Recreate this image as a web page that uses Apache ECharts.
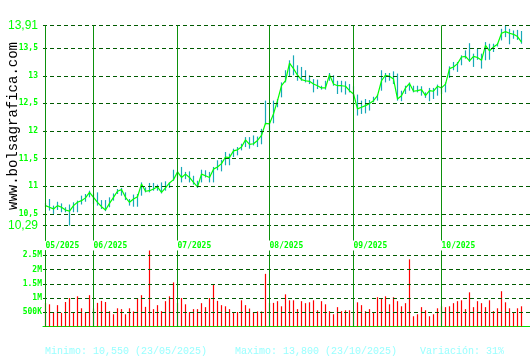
<!DOCTYPE html>
<html><head><meta charset="utf-8">
<script src="https://cdn.jsdelivr.net/npm/echarts@6/dist/echarts.min.js"></script>
<style>html,body{margin:0;padding:0;background:#fff}#c{width:530px;height:360px}</style>
</head><body><div id="c"></div>
<script>
const monthLabels = ['05/2025','06/2025','07/2025','08/2025','09/2025','10/2025'];
const monthStarts = [0,12,33,56,77,99];
const priceTicks = [10.29,10.5,11,11.5,12,12.5,13,13.5,13.91];
const volumeTicks = [500000,1000000,1500000,2000000,2500000];
const footerTexts = ['Minimo: 10,550 (23/05/2025)','Maximo: 13,800 (23/10/2025)','Variación: 31%'];

const closes = [10.65,10.62,10.59,10.65,10.62,10.57,10.55,10.65,10.71,10.74,
10.79,10.89,10.80,10.71,10.63,10.57,10.69,10.80,10.91,10.94,
10.80,10.71,10.77,10.81,11.04,10.91,10.92,10.95,10.99,10.89,
10.97,11.06,11.12,11.26,11.16,11.22,11.16,11.07,10.99,11.22,
11.19,11.16,11.31,11.35,11.41,11.53,11.52,11.64,11.66,11.71,
11.84,11.76,11.77,11.83,11.92,12.14,12.13,12.31,12.55,12.82,
12.91,13.23,13.13,13.01,12.93,12.91,12.90,12.85,12.82,12.78,
12.78,13.02,12.85,12.82,12.82,12.81,12.73,12.67,12.40,12.43,
12.46,12.50,12.55,12.64,12.91,13.01,12.99,12.94,12.58,12.64,
12.78,12.86,12.72,12.73,12.75,12.64,12.73,12.72,12.81,12.78,
12.85,13.13,13.16,13.22,13.34,13.35,13.27,13.35,13.33,13.28,
13.55,13.45,13.52,13.57,13.77,13.80,13.77,13.75,13.71,13.61];

const highs = [10.70,10.77,10.65,10.72,10.69,10.62,10.67,10.71,10.74,10.83,
10.86,10.92,10.87,10.89,10.75,10.75,10.80,10.87,10.95,10.97,
10.89,10.77,10.85,10.86,11.07,10.98,11.06,11.06,11.03,11.07,
11.09,11.07,11.30,11.27,11.35,11.26,11.27,11.19,11.10,11.30,
11.29,11.26,11.35,11.47,11.48,11.62,11.59,11.68,11.71,11.77,
11.89,11.89,11.92,11.90,12.04,12.55,12.19,12.55,12.58,12.88,
13.10,13.28,13.37,13.19,13.16,13.10,13.01,12.94,12.93,12.82,
12.91,13.05,13.01,12.91,12.91,12.90,12.85,12.81,12.66,12.55,
12.58,12.56,12.62,12.66,13.10,13.05,13.05,13.08,13.04,12.73,
12.82,12.88,12.82,12.82,12.81,12.70,12.78,12.78,12.84,12.82,
12.88,13.17,13.25,13.25,13.37,13.46,13.59,13.40,13.49,13.40,
13.61,13.58,13.58,13.59,13.85,13.91,13.85,13.82,13.83,13.81];

const lows = [10.62,10.56,10.50,10.57,10.53,10.53,10.29,10.53,10.53,10.67,
10.72,10.80,10.68,10.65,10.59,10.55,10.62,10.74,10.86,10.83,
10.75,10.65,10.63,10.63,10.83,10.89,10.89,10.92,10.92,10.87,
10.92,10.97,11.10,11.16,11.07,11.13,11.07,11.03,10.97,11.07,
11.16,11.07,11.07,11.29,11.27,11.38,11.38,11.53,11.56,11.65,
11.71,11.68,11.74,11.71,11.76,12.12,12.01,12.14,12.43,12.61,
12.88,12.99,13.01,12.91,12.91,12.88,12.85,12.70,12.76,12.75,
12.75,12.91,12.82,12.67,12.70,12.66,12.70,12.61,12.28,12.31,
12.32,12.37,12.52,12.55,12.73,12.88,12.91,12.85,12.55,12.54,
12.67,12.73,12.70,12.70,12.64,12.60,12.54,12.58,12.64,12.67,
12.70,12.96,13.10,13.07,13.19,13.31,13.25,13.16,13.29,13.13,
13.28,13.29,13.43,13.53,13.64,13.70,13.57,13.67,13.65,13.58];

const volumesK = [830,780,510,750,480,860,1000,480,1060,640,
510,1100,630,830,900,860,540,430,640,610,
430,640,530,1000,1100,690,2670,610,750,540,
890,1060,1550,830,1000,780,510,610,610,820,
680,1000,1460,900,750,710,610,510,510,920,
750,630,510,530,530,1850,830,830,890,710,
1130,920,920,610,890,820,850,920,570,890,
780,540,430,680,540,570,570,460,850,750,
540,610,510,1030,1000,1060,780,1030,890,710,
820,2360,360,430,680,570,360,430,640,710,
680,710,820,890,920,610,1200,680,890,820,
680,920,540,640,1240,850,640,510,640,710];

const yLow = priceTicks[0], yHigh = priceTicks[priceTicks.length-1];
const priceMin = yLow - (yHigh - yLow) * 15 / 200;
const volMax = Math.max(...volumesK) * 1000;

const green = '#00ff00';
const dashColor = '#005a00';
const monthColor = '#0c900c';
const axisColor = '#00e000';
const smallFont = {fontFamily:'DejaVu Sans Mono', fontWeight:'bold', fontSize:8, color:green};

function gridMarks(ticks){
  return {
    silent:true, symbol:'none', label:{show:false}, animation:false,
    data: ticks.map(v=>({yAxis:v, lineStyle:{type:[4,3], color:dashColor, width:1, opacity:1}}))
      .concat(monthStarts.map(i=>({xAxis:i, lineStyle:{type:'solid', color:monthColor, width:1, opacity:1}})))
  };
}

const chart = echarts.init(document.getElementById('c'), null, {renderer:'canvas'});
chart.setOption({
  animation:false,
  backgroundColor:'#ffffff',
  title: footerTexts.map((t,k)=>({
    text:t, left:[45,235,420][k], top:346, padding:0,
    textStyle:{fontFamily:'Liberation Mono', fontSize:10, fontWeight:'normal', color:'#99ffff'}
  })),
  graphic:[{type:'text', x:13, y:126, rotation:Math.PI/2,
    style:{text:'www.bolsagrafica.com', font:'14px "Liberation Mono"', fill:'#000', align:'center', verticalAlign:'middle'}}],
  grid:[
    {left:43, right:0, top:25.5, height:215},
    {left:43, right:0, top:250.5, height:76}
  ],
  xAxis:[
    {gridIndex:0, type:'value', min:-0.625, max:121.125,
     axisLine:{show:false}, axisTick:{show:false}, splitLine:{show:false},
     axisLabel:{customValues:monthStarts, formatter:v=>monthLabels[monthStarts.indexOf(v)],
       align:'left', margin:1, ...smallFont}},
    {gridIndex:1, type:'value', min:-0.625, max:121.125,
     axisLine:{show:true, onZero:false, lineStyle:{color:axisColor, width:1}}, axisTick:{show:false},
     splitLine:{show:false}, axisLabel:{show:false}}
  ],
  yAxis:[
    {gridIndex:0, type:'value', min:priceMin, max:yHigh,
     axisLine:{show:true, lineStyle:{color:axisColor, width:1}}, axisTick:{show:false}, splitLine:{show:false},
     axisLabel:{customValues:priceTicks, margin:5,
       formatter:v=>{const s=String(v).replace('.',','); return (v===yLow||v===yHigh)?'{b|'+s+'}':'{s|'+s+'}';},
       rich:{b:{fontFamily:'Liberation Sans', fontSize:12, color:green}, s:smallFont}}},
    {gridIndex:1, type:'value', min:0, max:volMax,
     axisLine:{show:true, lineStyle:{color:axisColor, width:1}}, axisTick:{show:false}, splitLine:{show:false},
     axisLabel:{customValues:volumeTicks, margin:1,
       formatter:v=> v>=1e6 ? (v/1e6)+'M' : (v/1e3)+'K', ...smallFont}}
  ],
  series:[
    {name:'priceGrid', type:'line', xAxisIndex:0, yAxisIndex:0, data:[], z:1, markLine:gridMarks(priceTicks)},
    {name:'hl', type:'custom', xAxisIndex:0, yAxisIndex:0, z:2,
     data: highs.map((h,i)=>[i,h,lows[i]]),
     encode:{x:0, y:[1,2]},
     renderItem:(params, api)=>{
       const i = api.value(0);
       const p1 = api.coord([i, api.value(1)]);
       const p2 = api.coord([i, api.value(2)]);
       return {type:'line', shape:{x1:p1[0], y1:p1[1], x2:p2[0], y2:p2[1]}, style:{stroke:'#18a8b8', lineWidth:1.2}};
     }},
    {name:'close', type:'line', xAxisIndex:0, yAxisIndex:0, z:3, showSymbol:false, symbol:'none',
     data: closes.map((c,i)=>[i,c]), lineStyle:{color:green, width:1.2}},
    {name:'volGrid', type:'line', xAxisIndex:1, yAxisIndex:1, data:[], z:1, markLine:gridMarks(volumeTicks)},
    {name:'volume', type:'bar', xAxisIndex:1, yAxisIndex:1, z:2, barWidth:1.2,
     data: volumesK.map((v,i)=>[i, v*1000]), itemStyle:{color:'#ff0000'}}
  ]
});
</script></body></html>
